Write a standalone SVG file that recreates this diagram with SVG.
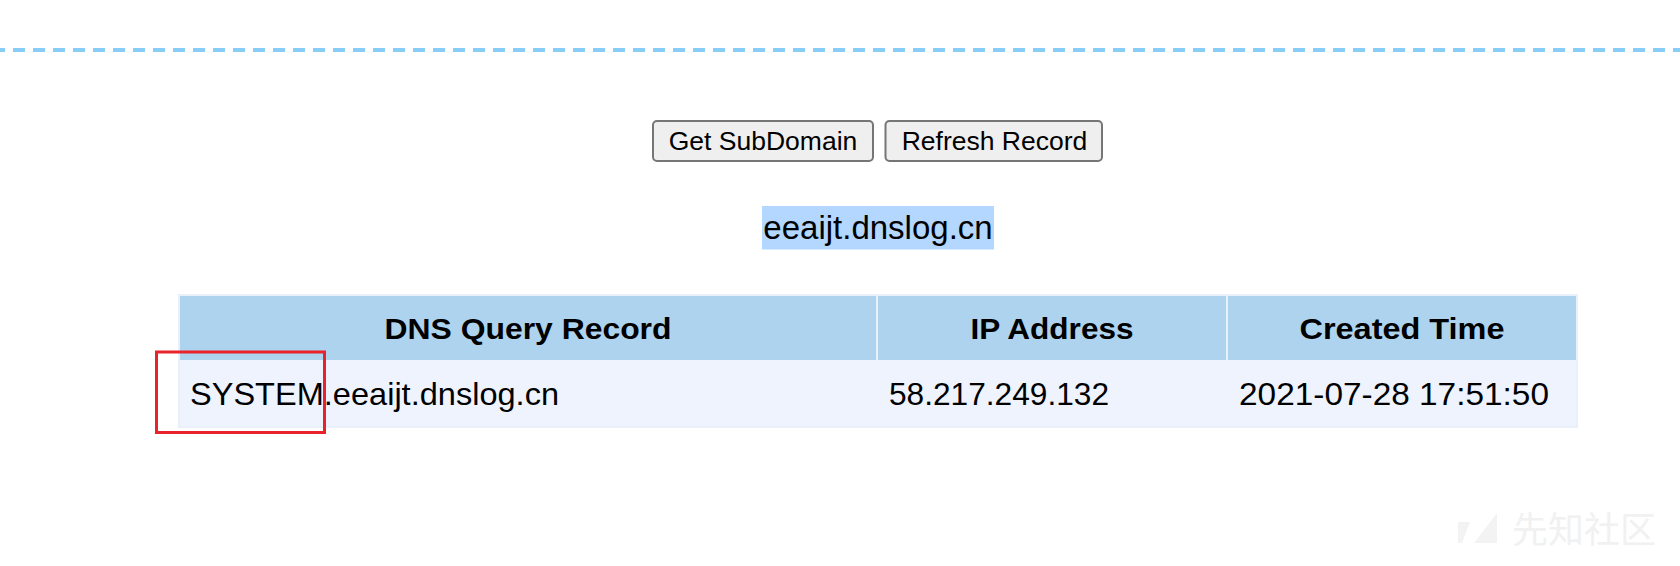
<svg xmlns="http://www.w3.org/2000/svg" width="1680" height="566" viewBox="0 0 1680 566">
  <style>
    .btn { fill: #efefef; stroke: #767676; stroke-width: 2; }
    .btntxt { font-family: "Liberation Sans", Arial, sans-serif; font-size: 26.5px; fill: #000; text-anchor: middle; }
    .th { font-family: "Liberation Sans", Arial, sans-serif; font-size: 30px; font-weight: bold; fill: #000; text-anchor: middle; }
    .td { font-family: "Liberation Sans", Arial, sans-serif; font-size: 32px; fill: #000; }
    .wm { font-family: "Noto Sans CJK SC", "Liberation Sans", sans-serif; font-size: 36px; fill: #f1f1f1; }
  </style>
  <rect width="1680" height="566" fill="#ffffff"/>

  <g id="divider">
    <line x1="0" y1="50" x2="1680" y2="50" stroke="#87cdf8" stroke-width="4" stroke-dasharray="12 8" stroke-dashoffset="7"/>
  </g>

  <g id="btn-get-subdomain">
    <rect class="btn" x="653" y="121" width="220" height="40" rx="4"/>
    <text class="btntxt" x="763" y="150">Get SubDomain</text>
  </g>
  <g id="btn-refresh-record">
    <rect class="btn" x="885.5" y="121" width="216.5" height="40" rx="4"/>
    <text class="btntxt" x="994.5" y="150">Refresh Record</text>
  </g>

  <g id="subdomain">
    <rect x="762" y="206" width="232" height="43.5" fill="#b3d7fe"/>
    <text class="td" x="878" y="239" font-size="33" text-anchor="middle" style="font-size:33px">eeaijt.dnslog.cn</text>
  </g>

  <g id="table">
    <rect x="178" y="294" width="1400" height="134" fill="#e9f0f9"/>
    <g id="header">
      <rect x="180" y="296" width="696" height="64" fill="#aed3ef"/>
      <rect x="878" y="296" width="348" height="64" fill="#aed3ef"/>
      <rect x="1228" y="296" width="348" height="64" fill="#aed3ef"/>
      <text class="th" x="528" y="339" textLength="287" lengthAdjust="spacingAndGlyphs">DNS Query Record</text>
      <text class="th" x="1052" y="339" textLength="163" lengthAdjust="spacingAndGlyphs">IP Address</text>
      <text class="th" x="1402" y="339" textLength="205" lengthAdjust="spacingAndGlyphs">Created Time</text>
    </g>
    <g id="row1">
      <rect x="180" y="360" width="1396" height="66" fill="#eef3fe"/>
      <text class="td" x="190" y="405" textLength="369" lengthAdjust="spacingAndGlyphs">SYSTEM.eeaijt.dnslog.cn</text>
      <text class="td" x="889" y="405" textLength="220" lengthAdjust="spacingAndGlyphs">58.217.249.132</text>
      <text class="td" x="1239" y="405" textLength="310" lengthAdjust="spacingAndGlyphs">2021-07-28 17:51:50</text>
    </g>
  </g>

  <g id="highlight-box">
    <rect x="156.5" y="352" width="168" height="80.5" fill="none" stroke="#e8232b" stroke-width="3"/>
  </g>

  <g id="watermark">
    <polygon points="1458,522 1470,522 1462,543 1458,543" fill="#f3f3f3"/>
    <polygon points="1497,513 1497,543 1474,543" fill="#f3f3f3"/>
    <text class="wm" x="1512" y="543">先知社区</text>
  </g>
</svg>
